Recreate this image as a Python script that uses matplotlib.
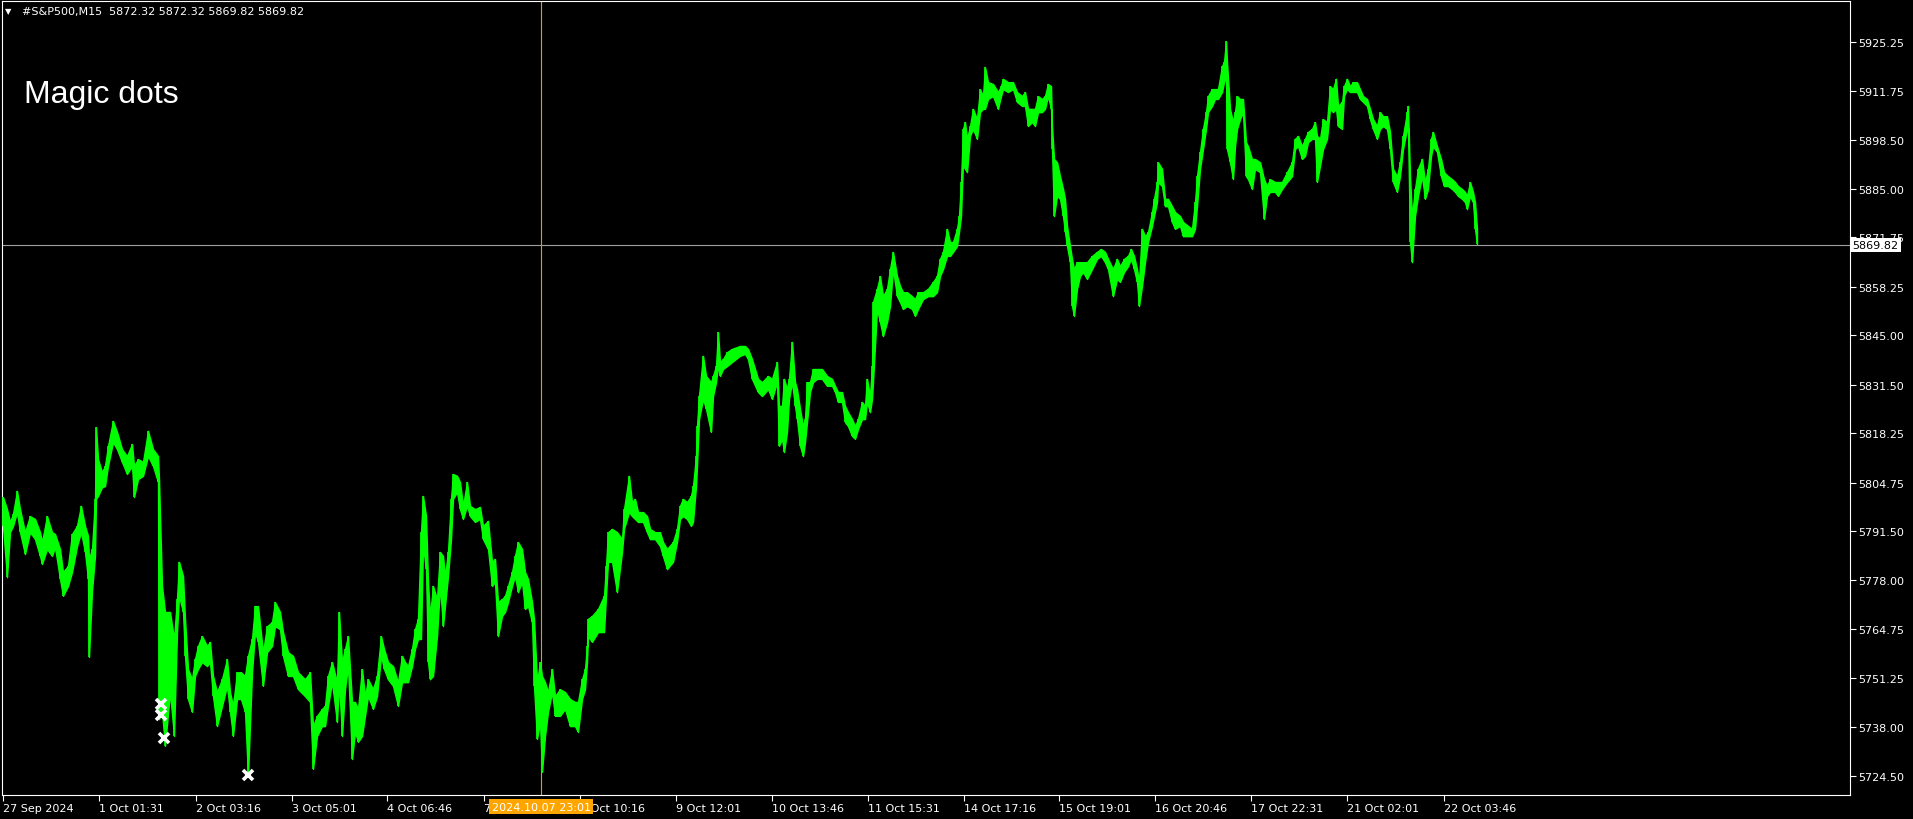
import matplotlib
matplotlib.use("Agg")
import matplotlib.pyplot as plt
from matplotlib.transforms import blended_transform_factory

# bar position on the time axis, with the high / low of the price there
bar = [3, 7, 10, 13, 17, 20, 25, 30, 35, 40, 42, 47, 52, 55, 60, 63, 68, 72, 77, 81,
       85, 88, 89, 92, 95, 96, 98, 102, 105, 108, 113, 117, 122, 127, 132, 134, 138, 143, 148, 153,
       158, 159, 162, 165, 170, 174, 177, 179, 183, 185, 188, 192, 195, 198, 202, 207, 210, 213, 217, 222,
       227, 230, 233, 237, 241, 245, 248, 252, 255, 258, 263, 267, 272, 275, 280, 283, 288, 293, 298, 305,
       310, 313, 317, 322, 325, 328, 332, 337, 339, 342, 345, 348, 352, 355, 358, 362, 365, 368, 373, 377,
       381, 384, 388, 393, 398, 402, 405, 408, 412, 415, 418, 421, 423, 426, 428, 430, 433, 437, 440, 443,
       445, 448, 451, 453, 457, 460, 463, 467, 470, 475, 480, 483, 488, 492, 495, 498, 502, 505, 508, 512,
       515, 518, 522, 525, 528, 532, 534, 537, 540, 542, 545, 548, 552, 555, 560, 565, 570, 575, 578, 582,
       585, 587, 588, 592, 598, 604, 606, 608, 612, 617, 622, 624, 629, 632, 635, 638, 643, 647, 650, 655,
       660, 663, 667, 673, 677, 680, 683, 687, 691, 693, 696, 697, 699, 703, 706, 711, 713, 716, 718, 720,
       723, 727, 732, 740, 745, 748, 752, 758, 762, 768, 772, 777, 779, 782, 784, 787, 789, 792, 795, 797,
       800, 803, 805, 807, 810, 813, 817, 822, 827, 832, 835, 838, 842, 845, 848, 852, 855, 858, 862, 865,
       867, 870, 872, 873, 877, 880, 883, 887, 890, 893, 897, 900, 903, 907, 912, 915, 918, 923, 928, 933,
       937, 940, 943, 947, 950, 953, 957, 959, 961, 963, 965, 967, 970, 973, 977, 980, 983, 985, 988, 993,
       998, 1001, 1003, 1008, 1013, 1017, 1022, 1025, 1028, 1032, 1035, 1038, 1042, 1045, 1048, 1051, 1052, 1054, 1057, 1060,
       1063, 1065, 1067, 1070, 1072, 1074, 1077, 1080, 1083, 1087, 1092, 1097, 1101, 1105, 1108, 1113, 1117, 1120, 1124, 1128,
       1131, 1134, 1137, 1139, 1142, 1145, 1148, 1152, 1154, 1157, 1158, 1162, 1165, 1168, 1172, 1175, 1180, 1183, 1188, 1192,
       1195, 1197, 1200, 1203, 1206, 1208, 1212, 1215, 1218, 1222, 1224, 1226, 1227, 1230, 1233, 1235, 1237, 1240, 1243, 1246,
       1248, 1252, 1255, 1260, 1264, 1267, 1270, 1275, 1278, 1282, 1287, 1292, 1295, 1298, 1302, 1305, 1308, 1312, 1315, 1317,
       1320, 1323, 1327, 1330, 1333, 1336, 1338, 1342, 1344, 1347, 1350, 1353, 1357, 1360, 1363, 1367, 1370, 1373, 1377, 1380,
       1383, 1387, 1390, 1393, 1397, 1400, 1403, 1407, 1408, 1410, 1412, 1415, 1418, 1422, 1425, 1428, 1431, 1433, 1437, 1441,
       1444, 1448, 1452, 1455, 1458, 1462, 1465, 1467, 1470, 1473, 1475, 1477]

hi = [5800.8, 5797.5, 5794.0, 5796.2, 5802.5, 5797.5, 5791.2, 5795.6, 5794.8, 5791.2, 5788.5, 5795.6, 5791.2, 5790.7, 5786.6, 5780.3, 5782.0, 5790.7, 5792.9, 5798.4,
      5792.9, 5790.2, 5783.9, 5786.6, 5800.3, 5819.9, 5811.2, 5807.6, 5809.3, 5814.8, 5821.6, 5818.6, 5813.9, 5812.0, 5815.3, 5809.3, 5811.2, 5810.4, 5818.9, 5813.9,
      5812.0, 5805.7, 5776.5, 5769.4, 5769.4, 5762.0, 5772.9, 5783.1, 5779.2, 5767.5, 5753.8, 5751.0, 5756.5, 5760.1, 5762.8, 5760.1, 5761.2, 5751.9, 5747.5, 5751.0,
      5756.5, 5747.5, 5743.7, 5752.9, 5752.9, 5751.9, 5757.4, 5762.0, 5771.0, 5771.0, 5758.4, 5765.5, 5766.6, 5772.1, 5769.4, 5763.9, 5758.4, 5757.4, 5752.9, 5751.0,
      5752.9, 5738.2, 5741.0, 5742.9, 5743.7, 5751.9, 5755.7, 5750.2, 5769.4, 5755.7, 5759.3, 5762.8, 5744.8, 5744.8, 5742.9, 5753.8, 5746.4, 5751.0, 5748.3, 5751.9,
      5762.8, 5759.3, 5755.7, 5754.6, 5750.2, 5757.4, 5755.7, 5754.6, 5759.3, 5764.7, 5767.5, 5791.2, 5801.1, 5795.6, 5777.6, 5768.3, 5776.5, 5772.9, 5785.8, 5784.7,
      5779.2, 5785.8, 5800.3, 5807.1, 5806.6, 5804.9, 5798.4, 5804.9, 5798.4, 5797.5, 5798.1, 5792.9, 5794.3, 5783.1, 5783.9, 5772.1, 5772.9, 5773.8, 5776.5, 5780.3,
      5784.7, 5788.5, 5786.6, 5780.3, 5778.4, 5772.1, 5767.5, 5750.2, 5755.7, 5751.9, 5750.2, 5747.5, 5753.8, 5746.4, 5748.3, 5747.5, 5745.6, 5744.8, 5744.8, 5751.0,
      5753.8, 5760.1, 5767.5, 5768.3, 5770.2, 5773.8, 5782.0, 5791.2, 5792.1, 5791.2, 5789.3, 5797.5, 5806.6, 5799.4, 5800.3, 5796.7, 5796.7, 5795.6, 5792.1, 5791.2,
      5791.2, 5788.5, 5786.6, 5788.5, 5792.1, 5798.4, 5800.3, 5799.4, 5801.1, 5803.8, 5812.0, 5820.2, 5828.4, 5839.4, 5833.9, 5832.2, 5833.9, 5836.6, 5845.9, 5837.7,
      5838.5, 5840.4, 5841.3, 5842.1, 5842.1, 5841.3, 5838.5, 5833.1, 5832.2, 5833.9, 5833.1, 5837.7, 5825.7, 5825.7, 5833.1, 5830.3, 5833.1, 5843.2, 5832.2, 5830.3,
      5824.9, 5820.2, 5822.1, 5832.2, 5832.2, 5835.8, 5835.8, 5835.8, 5833.9, 5833.1, 5831.2, 5829.5, 5829.5, 5825.7, 5824.0, 5822.1, 5820.2, 5822.1, 5826.8, 5825.7,
      5833.1, 5828.4, 5836.6, 5854.1, 5857.7, 5861.2, 5855.7, 5857.7, 5863.1, 5867.8, 5861.2, 5858.5, 5856.8, 5856.8, 5855.7, 5854.9, 5856.8, 5856.8, 5857.7, 5859.6,
      5861.2, 5865.9, 5867.8, 5874.1, 5870.5, 5870.5, 5874.1, 5877.6, 5886.9, 5901.4, 5903.3, 5898.7, 5902.2, 5906.9, 5904.1, 5912.3, 5910.4, 5918.3, 5914.2, 5913.7,
      5911.5, 5913.1, 5915.1, 5914.2, 5914.2, 5911.5, 5910.4, 5911.5, 5906.9, 5906.9, 5906.9, 5910.4, 5909.6, 5910.4, 5913.7, 5913.1, 5902.2, 5893.2, 5892.3, 5888.5,
      5885.0, 5882.3, 5874.9, 5869.4, 5865.9, 5863.1, 5865.0, 5865.0, 5865.0, 5865.0, 5866.7, 5867.8, 5868.6, 5867.8, 5865.9, 5863.1, 5865.9, 5863.9, 5865.9, 5866.7,
      5868.6, 5866.7, 5863.1, 5859.6, 5874.1, 5872.1, 5873.2, 5878.7, 5882.3, 5886.9, 5892.3, 5890.5, 5882.3, 5882.3, 5880.3, 5878.7, 5877.6, 5876.0, 5874.9, 5874.1,
      5881.4, 5888.5, 5895.1, 5901.4, 5906.0, 5910.4, 5912.3, 5912.3, 5912.3, 5918.6, 5919.7, 5925.4, 5919.7, 5906.9, 5903.3, 5906.0, 5910.4, 5909.6, 5909.6, 5897.8,
      5896.7, 5893.2, 5893.2, 5892.3, 5887.7, 5885.8, 5887.7, 5886.9, 5886.9, 5886.9, 5889.6, 5892.3, 5898.7, 5899.5, 5896.7, 5898.7, 5900.6, 5901.4, 5903.3, 5899.5,
      5898.7, 5904.1, 5903.3, 5913.1, 5912.3, 5915.1, 5907.7, 5908.8, 5913.1, 5915.1, 5913.1, 5914.2, 5914.2, 5912.3, 5910.4, 5909.6, 5906.9, 5904.1, 5902.2, 5906.0,
      5904.9, 5904.9, 5900.6, 5890.5, 5888.5, 5892.3, 5899.5, 5906.0, 5907.7, 5888.5, 5877.6, 5885.0, 5890.5, 5893.2, 5886.9, 5890.5, 5898.7, 5900.6, 5896.7, 5893.2,
      5889.6, 5888.5, 5887.7, 5886.9, 5885.8, 5885.0, 5884.2, 5883.1, 5886.9, 5884.2, 5881.4, 5874.1]

lo = [5792.9, 5778.9, 5791.2, 5792.9, 5796.7, 5791.2, 5785.2, 5791.2, 5789.3, 5784.7, 5782.5, 5786.6, 5784.7, 5787.1, 5778.4, 5773.8, 5776.5, 5780.3, 5787.4, 5791.2,
      5785.8, 5778.4, 5757.1, 5775.1, 5784.7, 5800.3, 5801.1, 5803.5, 5803.8, 5809.3, 5815.8, 5813.9, 5810.4, 5807.1, 5809.3, 5800.8, 5805.7, 5806.6, 5812.0, 5809.3,
      5804.9, 5740.1, 5742.1, 5732.8, 5747.5, 5735.5, 5763.9, 5773.8, 5769.4, 5757.4, 5745.6, 5742.1, 5751.9, 5753.8, 5755.7, 5754.6, 5755.7, 5746.4, 5738.2, 5743.7,
      5749.2, 5742.1, 5735.5, 5745.6, 5745.6, 5742.1, 5724.6, 5752.9, 5763.9, 5761.2, 5749.2, 5758.4, 5760.1, 5765.5, 5764.7, 5757.4, 5751.9, 5751.9, 5748.3, 5746.4,
      5744.8, 5726.5, 5735.5, 5738.2, 5738.2, 5743.7, 5750.2, 5739.3, 5750.2, 5735.5, 5748.3, 5754.6, 5729.2, 5736.6, 5733.9, 5735.5, 5741.0, 5746.4, 5742.9, 5746.4,
      5757.4, 5753.8, 5751.0, 5749.2, 5743.7, 5750.2, 5750.2, 5750.2, 5754.6, 5759.3, 5762.0, 5762.0, 5787.4, 5781.1, 5755.7, 5751.0, 5751.9, 5762.8, 5776.5, 5765.5,
      5771.0, 5779.2, 5789.3, 5800.3, 5802.2, 5797.5, 5794.8, 5798.4, 5795.6, 5794.0, 5794.8, 5789.3, 5786.6, 5776.5, 5777.6, 5762.8, 5768.3, 5769.4, 5772.1, 5776.5,
      5779.2, 5774.8, 5777.6, 5770.2, 5771.0, 5766.6, 5749.2, 5734.7, 5739.3, 5725.7, 5735.5, 5742.1, 5747.5, 5741.0, 5741.0, 5742.9, 5738.2, 5738.2, 5736.6, 5745.6,
      5748.3, 5755.7, 5762.8, 5761.2, 5763.9, 5763.9, 5773.8, 5783.1, 5783.1, 5774.8, 5785.8, 5792.1, 5796.7, 5795.6, 5794.8, 5794.0, 5794.0, 5791.2, 5789.3, 5789.3,
      5787.4, 5784.7, 5781.1, 5783.1, 5788.5, 5794.8, 5795.6, 5794.8, 5792.9, 5794.0, 5803.8, 5809.3, 5822.1, 5827.6, 5824.9, 5818.6, 5828.4, 5832.2, 5836.6, 5833.9,
      5835.8, 5836.6, 5837.7, 5839.4, 5839.9, 5838.5, 5833.1, 5829.5, 5828.4, 5830.3, 5827.6, 5832.2, 5814.8, 5816.7, 5813.1, 5818.6, 5827.6, 5832.2, 5825.7, 5822.1,
      5814.8, 5812.0, 5815.8, 5821.3, 5829.5, 5832.2, 5833.1, 5833.1, 5831.2, 5831.2, 5829.5, 5826.8, 5826.8, 5821.3, 5820.2, 5817.5, 5816.7, 5819.4, 5822.1, 5822.1,
      5826.8, 5824.0, 5827.6, 5832.2, 5852.2, 5848.6, 5844.8, 5848.6, 5853.0, 5863.1, 5855.7, 5854.1, 5852.2, 5853.0, 5852.2, 5850.3, 5852.2, 5854.9, 5855.7, 5855.7,
      5856.8, 5861.2, 5863.1, 5866.7, 5866.7, 5867.8, 5869.4, 5873.2, 5877.6, 5892.3, 5890.5, 5889.6, 5899.5, 5901.4, 5898.7, 5906.0, 5906.9, 5906.9, 5909.6, 5910.4,
      5906.9, 5910.4, 5912.3, 5911.5, 5912.3, 5908.8, 5907.7, 5907.7, 5902.2, 5903.3, 5902.2, 5906.0, 5906.0, 5906.9, 5910.4, 5906.9, 5895.9, 5877.6, 5883.1, 5882.3,
      5877.6, 5873.2, 5869.4, 5865.0, 5853.0, 5850.3, 5857.7, 5861.2, 5862.3, 5860.4, 5863.1, 5865.9, 5866.7, 5865.0, 5863.1, 5855.7, 5860.4, 5859.6, 5862.3, 5863.9,
      5865.9, 5863.1, 5859.6, 5853.0, 5858.5, 5865.0, 5870.5, 5874.9, 5877.6, 5881.4, 5886.9, 5885.8, 5880.3, 5880.3, 5876.0, 5874.1, 5874.9, 5872.1, 5872.1, 5872.1,
      5874.1, 5880.3, 5890.5, 5895.9, 5901.4, 5906.0, 5907.7, 5909.6, 5909.6, 5911.5, 5914.2, 5915.9, 5895.9, 5892.3, 5887.7, 5896.7, 5901.4, 5904.1, 5906.0, 5888.5,
      5887.7, 5885.0, 5890.5, 5889.6, 5876.8, 5883.1, 5884.2, 5884.2, 5883.1, 5885.0, 5886.9, 5888.5, 5895.9, 5896.7, 5893.2, 5894.0, 5897.8, 5898.7, 5898.7, 5886.9,
      5891.3, 5895.9, 5898.7, 5906.9, 5906.0, 5906.9, 5902.2, 5901.4, 5910.4, 5912.3, 5911.5, 5911.5, 5911.5, 5909.6, 5908.8, 5907.7, 5904.1, 5901.4, 5898.7, 5901.4,
      5902.2, 5901.4, 5895.9, 5886.9, 5884.2, 5888.5, 5895.9, 5901.4, 5901.4, 5870.5, 5865.0, 5877.6, 5883.1, 5888.5, 5882.3, 5885.0, 5894.0, 5896.7, 5895.1, 5888.5,
      5885.8, 5885.8, 5885.0, 5884.2, 5883.1, 5882.3, 5881.4, 5879.5, 5883.1, 5881.4, 5874.1, 5869.9]

# white crosses drawn by the "Magic dots" indicator
dot_bar = [161, 161, 164, 248]
dot_price = [5744.2, 5741.2, 5734.9, 5724.8]

last_price = 5869.82
cursor_bar = 541
cursor_label = "2024.10.07 23:01"

price_ticks = [5925.25, 5911.75, 5898.50, 5885.00, 5871.75, 5858.25, 5845.00, 5831.50,
               5818.25, 5804.75, 5791.50, 5778.00, 5764.75, 5751.25, 5738.00, 5724.50]
time_ticks = [3, 99, 195.5, 291.5, 387, 483.5, 579.5, 675.5, 771.6, 867.5,
              963.5, 1059.4, 1155.3, 1251.2, 1347.1, 1443.6]
time_labels = ["27 Sep 2024", "1 Oct 01:31", "2 Oct 03:16", "3 Oct 05:01", "4 Oct 06:46",
               "7 Oct 08:31", "8 Oct 10:16", "9 Oct 12:01", "10 Oct 13:46", "11 Oct 15:31",
               "14 Oct 17:16", "15 Oct 19:01", "16 Oct 20:46", "17 Oct 22:31", "21 Oct 02:01",
               "22 Oct 03:46"]

W, H = 1913, 820
fig = plt.figure(figsize=(W / 100, H / 100), dpi=100, facecolor="black")
ax = fig.add_axes([1.7 / W, 24 / H, 1847.8 / W, 794.3 / H], facecolor="black")

green = "#00ff00"
ax.fill_between(bar, lo, hi, color=green, lw=1.0, zorder=3)
ax.vlines(bar, lo, hi, color=green, lw=1.2, zorder=3)
ax.plot(dot_bar, dot_price, ls="none", marker="x", ms=7, mew=2.6, color="white", zorder=4)

ax.axhline(last_price, color="#a0a0a0", lw=0.8, zorder=2)
ax.axvline(cursor_bar, color="#e0962a", lw=0.8, zorder=2)

ax.set_xlim(1.7, 1849.5)
ax.set_ylim(5719.37, 5936.46)

for s in ax.spines.values():
    s.set_color("white")
    s.set_linewidth(0.8)

ax.yaxis.tick_right()
ax.set_yticks(price_ticks)
ax.set_yticklabels(["%.2f" % v for v in price_ticks])
ax.set_xticks(time_ticks)
ax.set_xticklabels(time_labels, ha="left")
ax.tick_params(colors="white", length=4, width=0.8, labelsize=8, direction="out")
ax.tick_params(axis="y", pad=2)
ax.tick_params(axis="x", pad=2)

# current price box on the price scale
yb = blended_transform_factory(ax.transAxes, ax.transData)
ax.text(1.0016, last_price, "%.2f" % last_price, transform=yb, ha="left", va="center",
        fontsize=8, color="black", zorder=10, clip_on=False,
        bbox=dict(boxstyle="square,pad=0.18", fc="white", ec="none"))

# cursor time box on the time scale
xb = blended_transform_factory(ax.transData, ax.transAxes)
ax.text(cursor_bar, -0.0145, cursor_label, transform=xb, ha="center", va="center",
        fontsize=8, color="white", zorder=10, clip_on=False,
        bbox=dict(boxstyle="square,pad=0.22", fc="#ffa500", ec="none"))

fig.text(8 / W, 1 - 12 / H, "\u25bc", color="white", fontsize=6, ha="center", va="center")
fig.text(22 / W, 1 - 12 / H, "#S&P500,M15  5872.32 5872.32 5869.82 5869.82",
         color="white", fontsize=8, ha="left", va="center")
fig.text(24 / W, 1 - 103 / H, "Magic dots", color="white", fontsize=23,
         family="Liberation Sans", ha="left", va="baseline")

fig.savefig("out.png", dpi=100, facecolor="black")
